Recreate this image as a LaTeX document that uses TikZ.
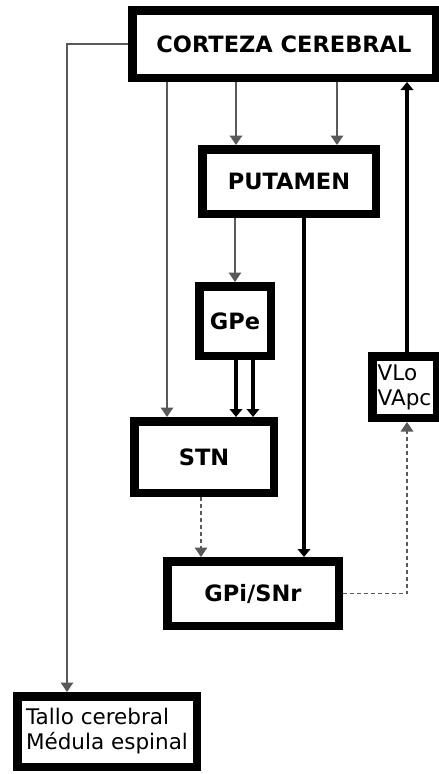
\documentclass[tikz,border=0pt]{standalone}
\usepackage{fontspec}
\setmainfont{DejaVu Sans}
\usetikzlibrary{arrows.meta}
\tikzset{
  nbox/.style={draw=black, fill=white, line width=8.5pt, inner sep=0pt, align=center, font=\fontsize{22.5}{26}\selectfont\bfseries},
  tbox/.style={draw=black, fill=white, line width=8.5pt, inner sep=0pt, align=left, font=\fontsize{21.5}{25}\selectfont},
  sflow/.style={-{Triangle[length=9.5pt,width=12.5pt]}, line width=1.5pt, draw=black!65},
  bflow/.style={-{Triangle[length=8pt,width=12.5pt]}, line width=4pt, draw=black},
  dflow/.style={-{Triangle[length=9.5pt,width=12.5pt]}, line width=1.5pt, draw=black!65, dash pattern=on 4pt off 3pt},
}

\begin{document}
\begin{tikzpicture}[x=1pt,y=-1pt]
  \useasboundingbox (0,0) rectangle (439,774);
  % boxes
  \node[nbox, minimum width=303.5pt, minimum height=67.5pt] (cortex) at (284,44) {CORTEZA CEREBRAL};
  \node[nbox, minimum width=173.5pt, minimum height=64.5pt] (putamen) at (289,181.5) {PUTAMEN};
  \node[nbox, minimum width=71.5pt, minimum height=69.5pt] (gpe) at (235,321) {GPe};
  \node[nbox, minimum width=139.5pt, minimum height=71.5pt] (stn) at (204,457) {STN};
  \node[nbox, minimum width=171.5pt, minimum height=64.5pt] (gpi) at (253,593.5) {GPi/SNr};
  \node[tbox, minimum width=64.5pt, minimum height=61.5pt] (vlo) at (404.5,387) {VLo\\VApc};
  \node[tbox, minimum width=179.5pt, minimum height=70.5pt] (tallo) at (107,731.5) {Tallo cerebral\\Médula espinal};
  % connections
  \draw[sflow] (cortex.west) -| ([xshift=-40pt]tallo.north);
  \draw[sflow] (167,0 |- cortex.south) -- (167,0 |- stn.north);
  \draw[sflow] (236,0 |- cortex.south) -- (236,0 |- putamen.north);
  \draw[sflow] (337,0 |- cortex.south) -- (337,0 |- putamen.north);
  \draw[sflow] (gpe.north |- putamen.south) -- (gpe.north);
  \draw[bflow] (304,0 |- putamen.south) -- (304,0 |- gpi.north);
  \draw[bflow] (236,0 |- gpe.south) -- (236,0 |- stn.north);
  \draw[bflow] (253,0 |- gpe.south) -- (253,0 |- stn.north);
  \draw[dflow] (201,0 |- stn.south) -- (201,0 |- gpi.north);
  \draw[dflow] (gpi.east) -| ([xshift=2.5pt]vlo.south);
  \draw[bflow] (407,0 |- vlo.north) -- (407,0 |- cortex.south);
\end{tikzpicture}
\end{document}
